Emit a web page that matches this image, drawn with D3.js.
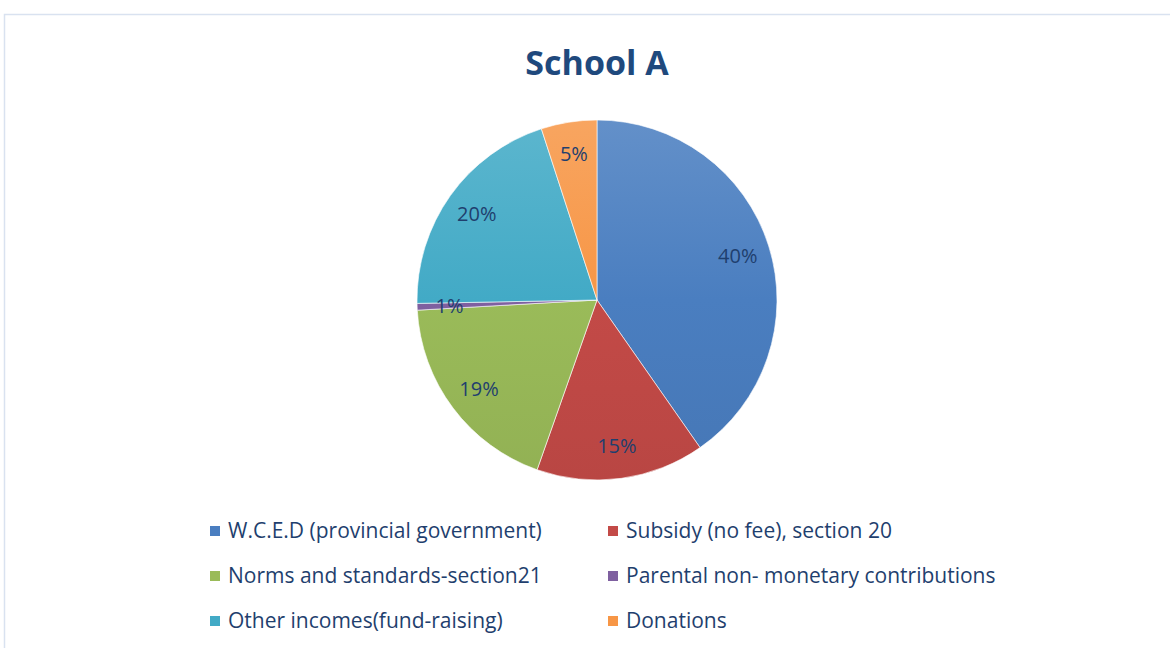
<!DOCTYPE html>
<html>
<head>
<meta charset="utf-8">
<script src="https://cdn.jsdelivr.net/npm/d3@7"></script>
<style>
  body { margin: 0; background: #fff; }
  text { font-family: "Open Sans", "Liberation Sans", Arial, sans-serif; }
</style>
</head>
<body>
<div class="chart_container"></div>
<script>
// data
var categories = ["W.C.E.D (provincial government)", "Subsidy (no fee), section 20",
                  "Norms and standards-section21", "Parental non- monetary contributions",
                  "Other incomes(fund-raising)", "Donations"];
var shares = [40.3, 15.1, 18.7, 0.6, 20.3, 5.0];
var labels = ["40%", "15%", "19%", "1%", "20%", "5%"];
var colors = ["#4A7EC0", "#C34A47", "#9ABB59", "#7F60A0", "#42AAC6", "#F79646"];

var w = 1170, h = 648;
var cx = 597, cy = 300, r = 180;

var svg = d3.select('.chart_container')
            .append('svg')
            .attr('width', w)
            .attr('height', h);

// chart frame
svg.append('rect')
    .attr('x', 4.5).attr('y', 14.5)
    .attr('width', w + 20).attr('height', h + 20)
    .style('fill', 'none')
    .style('stroke', '#D9E2F0')
    .style('stroke-width', 1.5);

// title
svg.append('text')
    .attr('x', cx).attr('y', 75)
    .style('text-anchor', 'middle')
    .style('font-size', '34px')
    .style('font-weight', 'bold')
    .style('fill', '#1F497D')
    .text('School A');

// gradients, lighter at top of pie (coords local to the pie group)
var defs = svg.append('defs');
colors.forEach(function(c, i){
    var g = defs.append('linearGradient')
        .attr('id', 'grad' + i)
        .attr('gradientUnits', 'userSpaceOnUse')
        .attr('x1', 0).attr('y1', -r)
        .attr('x2', 0).attr('y2', r);
    g.append('stop').attr('offset', '0%').attr('stop-color', d3.interpolateRgb(c, '#fff')(0.14));
    g.append('stop').attr('offset', '50%').attr('stop-color', c);
    g.append('stop').attr('offset', '100%').attr('stop-color', d3.color(c).darker(0.15));
});

var pie = d3.pie().sort(null).value(d => d);
var arcs = pie(shares);
var arc = d3.arc().innerRadius(0).outerRadius(r);
var labelArc = d3.arc().innerRadius(r * 0.82).outerRadius(r * 0.82);

var pie_g = svg.append('g')
    .attr('transform', 'translate(' + cx + ',' + cy + ')');

pie_g.selectAll('.slice')
    .data(arcs)
    .enter()
    .append('path')
    .attr('class', 'slice')
    .attr('d', arc)
    .style('fill', (d, i) => 'url(#grad' + i + ')')
    .style('stroke', '#fff')
    .style('stroke-width', 0.6);

pie_g.selectAll('.slice_label')
    .data(arcs)
    .enter()
    .append('text')
    .attr('class', 'slice_label')
    .attr('transform', d => 'translate(' + labelArc.centroid(d) + ')')
    .attr('dy', '0.35em')
    .style('text-anchor', 'middle')
    .style('font-size', '20px')
    .style('fill', '#1F3F6E')
    .text((d, i) => labels[i]);

// legend, two columns
var leg_x = [210, 608], leg_y0 = 531, leg_dy = 45;
var legend = svg.selectAll('.legend_item')
    .data(categories)
    .enter()
    .append('g')
    .attr('class', 'legend_item')
    .attr('transform', (d, i) => 'translate(' + leg_x[i % 2] + ',' + (leg_y0 + Math.floor(i / 2) * leg_dy) + ')');

legend.append('rect')
    .attr('x', 0).attr('y', -5)
    .attr('width', 10).attr('height', 10)
    .style('fill', (d, i) => colors[i]);

legend.append('text')
    .attr('x', 18)
    .attr('dy', '0.35em')
    .style('font-size', '21px')
    .style('fill', '#1F3F6E')
    .text(d => d);
</script>
</body>
</html>
